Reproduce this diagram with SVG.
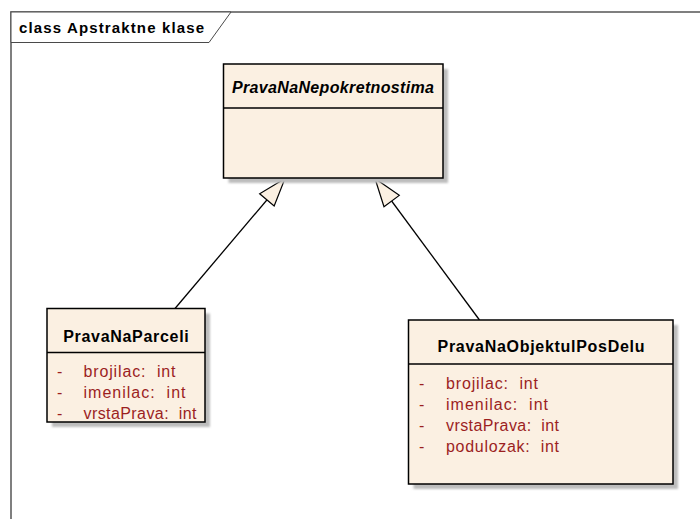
<svg xmlns="http://www.w3.org/2000/svg" width="700" height="519" viewBox="0 0 700 519">
  <style>
    .frame { fill: none; stroke: #7f7f7f; stroke-width: 2; }
    .tab { fill: #ffffff; stroke: #4a4a4a; stroke-width: 1; }
    .tabtext { font-family: "Liberation Sans", Arial, sans-serif; font-size: 15px; font-weight: bold; fill: #000; }
    .box { fill: #fbf0e2; stroke: #000; stroke-width: 1.5; }
    .shadow { fill: #bdbdbd; filter: url(#soft); }
    .sep { stroke: #000; stroke-width: 1.3; }
    .title { font-family: "Liberation Sans", Arial, sans-serif; font-size: 16px; font-weight: bold; fill: #000; text-anchor: middle; }
    .abstract { font-style: italic; }
    .attr { font-family: "Liberation Sans", Arial, sans-serif; font-size: 16px; fill: #9c1f1f; }
    .edge { fill: none; stroke: #000; stroke-width: 1.3; }
  </style>
  <defs>
    <filter id="soft" x="-10%" y="-10%" width="120%" height="120%">
      <feGaussianBlur stdDeviation="1"/>
    </filter>
    <!-- hollow generalization triangle, tip at the path end -->
    <marker id="inherit" viewBox="-30 -11 32 22" refX="0" refY="0" markerWidth="32" markerHeight="22" markerUnits="userSpaceOnUse" orient="auto">
      <path d="M0,0 L-28,-9.5 L-28,9.5 Z" fill="#fbf0e2" stroke="#000" stroke-width="1.2" stroke-linejoin="miter"/>
    </marker>
  </defs>

  <rect width="700" height="519" fill="#ffffff"/>

  <!-- diagram frame and name tab -->
  <g id="frame">
    <path class="frame" d="M11,519 V12 H700"/>
    <path class="tab" d="M11,12 H231 L209,42.5 H11 Z"/>
    <text class="tabtext" x="19" y="33" textLength="185" lengthAdjust="spacing">class Apstraktne klase</text>
  </g>

  <!-- generalization connectors -->
  <g id="connectors">
    <path class="edge" d="M175,308.5 L285,178.5" marker-end="url(#inherit)"/>
    <path class="edge" d="M479.5,320 L375,178.5" marker-end="url(#inherit)"/>
  </g>

  <!-- abstract base class -->
  <g id="PravaNaNepokretnostima">
    <rect class="shadow" x="228.5" y="69" width="219.5" height="114"/>
    <rect class="box" x="223.5" y="64" width="219.5" height="114"/>
    <line class="sep" x1="223.5" y1="108" x2="443" y2="108"/>
    <text class="title abstract" x="333" y="93" textLength="202" lengthAdjust="spacing">PravaNaNepokretnostima</text>
  </g>

  <g id="PravaNaParceli">
    <rect class="shadow" x="52" y="313.5" width="158" height="113.5"/>
    <rect class="box" x="47" y="308.5" width="158" height="113.5"/>
    <line class="sep" x1="47" y1="352.5" x2="205" y2="352.5"/>
    <text class="title" x="126" y="341.5" textLength="125.5" lengthAdjust="spacing">PravaNaParceli</text>
    <text class="attr" x="57" y="377">-</text>
    <text class="attr" x="83.5" y="377" textLength="92" lengthAdjust="spacing">brojilac:&#160; int</text>
    <text class="attr" x="57" y="398">-</text>
    <text class="attr" x="83.5" y="398" textLength="102" lengthAdjust="spacing">imenilac:&#160; int</text>
    <text class="attr" x="57" y="419">-</text>
    <text class="attr" x="83.5" y="419" textLength="113" lengthAdjust="spacing">vrstaPrava:&#160; int</text>
  </g>

  <g id="PravaNaObjektuIPosDelu">
    <rect class="shadow" x="413.5" y="325" width="264.5" height="164"/>
    <rect class="box" x="408.5" y="320" width="264.5" height="164"/>
    <line class="sep" x1="408.5" y1="364" x2="673" y2="364"/>
    <text class="title" x="541" y="352" textLength="207" lengthAdjust="spacing">PravaNaObjektulPosDelu</text>
    <text class="attr" x="419" y="389">-</text>
    <text class="attr" x="446" y="389" textLength="92" lengthAdjust="spacing">brojilac:&#160; int</text>
    <text class="attr" x="419" y="410">-</text>
    <text class="attr" x="446" y="410" textLength="102" lengthAdjust="spacing">imenilac:&#160; int</text>
    <text class="attr" x="419" y="431">-</text>
    <text class="attr" x="446" y="431" textLength="113" lengthAdjust="spacing">vrstaPrava:&#160; int</text>
    <text class="attr" x="419" y="452">-</text>
    <text class="attr" x="446" y="452" textLength="113" lengthAdjust="spacing">podulozak:&#160; int</text>
  </g>
</svg>
